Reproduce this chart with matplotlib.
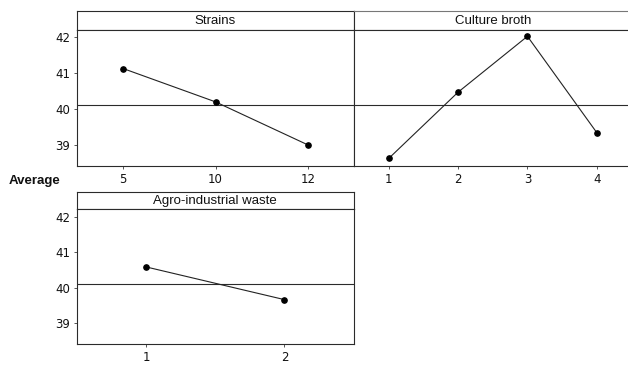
import matplotlib

matplotlib.use("Agg")
import matplotlib.pyplot as plt
import numpy as np

# main effects of each factor on the response
strain_levels = ["5", "10", "12"]
strain_means = [41.13, 40.20, 39.00]

broth_levels = ["1", "2", "3", "4"]
broth_means = [38.62, 40.47, 42.03, 39.34]

waste_levels = ["1", "2"]
waste_means = [40.58, 39.66]

grand_mean = 40.11
y_ticks = [39, 40, 41, 42]
y_lim = (38.41, 42.22)

W, H = 628, 369
EDGE = "#2b2b2b"


def px_rect(x0, y0, x1, y1):
    """pixel box (top-left origin) -> figure fraction rect"""
    return [x0 / W, 1 - y1 / H, (x1 - x0) / W, (y1 - y0) / H]


def panel(fig, x0, x1, y_head, y_top, y_bot, title, levels, means, show_y, clip_right=False):
    head = fig.add_axes(px_rect(x0, y_head, x1, y_top))
    head.set_xticks([])
    head.set_yticks([])
    for sp in head.spines.values():
        sp.set_color(EDGE)
        sp.set_linewidth(0.8)
    head.text(0.5, 0.45, title, ha="center", va="center", fontsize=9.5,
              family="Liberation Sans", color="#111111", transform=head.transAxes)

    ax = fig.add_axes(px_rect(x0, y_top, x1, y_bot))
    x = np.arange(1, len(levels) + 1)
    ax.axhline(grand_mean, color=EDGE, lw=0.8, zorder=1)
    ax.plot(x, means, color="#222222", lw=0.8, marker="o", ms=3.8,
            mfc="black", mec="black", zorder=3)
    ax.set_xlim(0.5, len(levels) + 0.5)
    ax.set_ylim(*y_lim)
    ax.set_xticks(x)
    ax.set_xticklabels(levels)
    ax.set_yticks(y_ticks)
    if not show_y:
        ax.tick_params(axis="y", left=False, labelleft=False)
    ax.tick_params(length=2.5, width=0.7, color="#555555", pad=2.5,
                   labelsize=8.5, labelcolor="#111111")
    for sp in ax.spines.values():
        sp.set_color(EDGE)
        sp.set_linewidth(0.8)
    if clip_right:
        # panel runs off the right edge of the canvas
        ax.spines["right"].set_visible(False)
        head.spines["right"].set_visible(False)
        head.spines["top"].set_color("#777777")
    return ax


fig = plt.figure(figsize=(W / 100, H / 100), dpi=100)
fig.patch.set_facecolor("white")

panel(fig, 77, 354, 11, 29.5, 166, "Strains", strain_levels, strain_means, True)
panel(fig, 354, 631.5, 11, 29.5, 166, "Culture broth", broth_levels, broth_means, False,
      clip_right=True)
panel(fig, 77, 353.5, 192, 208.7, 344, "Agro-industrial waste", waste_levels, waste_means, True)

fig.text(9 / W, 1 - 181 / H, "Average", ha="left", va="center", fontsize=9.5,
         fontweight="bold", family="Liberation Sans", color="#111111")

fig.savefig("out.png", dpi=100)
